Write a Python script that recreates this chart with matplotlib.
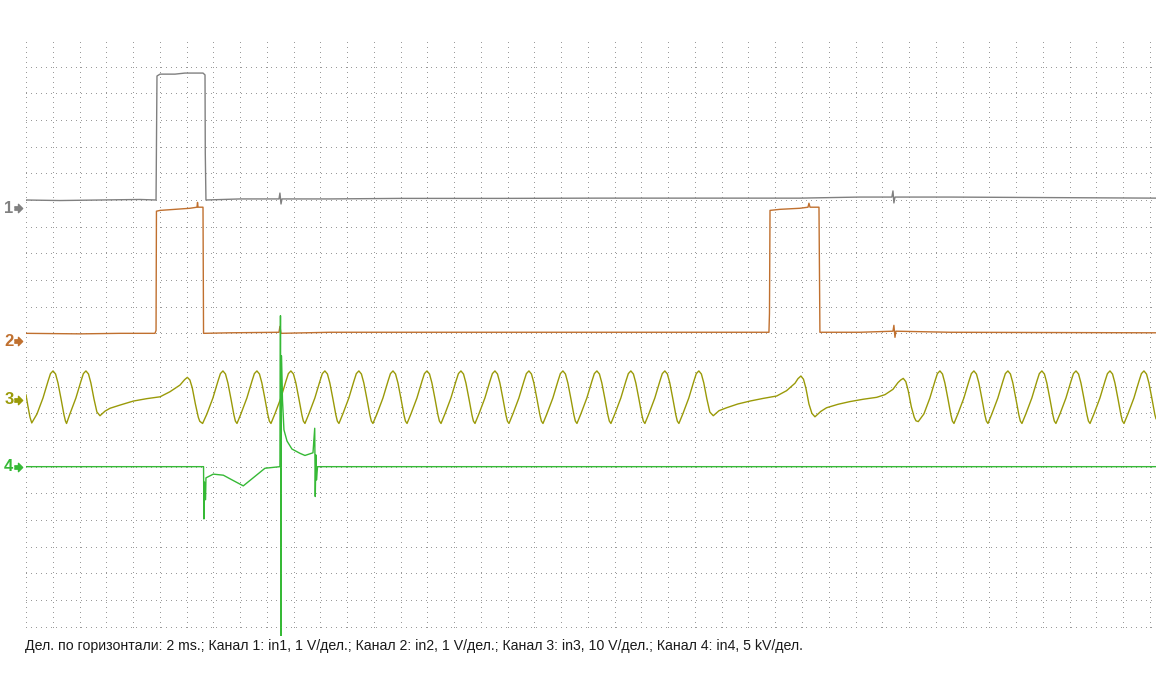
import numpy as np
import matplotlib
matplotlib.use("Agg")
import matplotlib.pyplot as plt

# time in ms (2 ms / div), amplitudes in channel units
ch1_ms = [0, 2.54, 5.53, 8.52, 9.72, 9.79, 10.02, 11.14, 11.88, 12.63,
          13.23, 13.38, 13.40, 13.45, 15.99, 18.91, 18.98, 19.06, 19.13, 22.72,
          27.95, 35.43, 42.90, 50.37, 57.85, 62.33, 64.72, 64.80, 64.87, 64.95,
          69.06, 76.53, 84.46]
ch1_v = [0.30, 0.28, 0.30, 0.32, 0.30, 4.95, 5.02, 5.02, 5.06, 5.06,
         5.06, 4.99, 2.06, 0.30, 0.34, 0.34, 0.56, 0.15, 0.34, 0.34,
         0.36, 0.36, 0.37, 0.37, 0.37, 0.41, 0.41, 0.64, 0.19, 0.41,
         0.41, 0.39, 0.37]

ch2_ms = [0, 4.04, 7.03, 9.64, 9.72, 9.75, 10.02, 11.14, 12.26, 12.78,
          12.82, 12.86, 13.23, 13.27, 15.25, 18.91, 18.98, 19.06, 22.72, 31.69,
          42.90, 50.37, 55.53, 55.57, 55.61, 56.35, 57.85, 58.45, 58.52, 58.60,
          59.27, 59.34, 62.33, 64.80, 64.87, 64.95, 65.02, 69.06, 84.46]
ch2_v = [0.30, 0.28, 0.30, 0.30, 0.41, 4.88, 4.91, 4.95, 4.99, 5.03,
         5.21, 5.03, 5.03, 0.30, 0.32, 0.34, 0.56, 0.30, 0.34, 0.34,
         0.34, 0.34, 0.34, 1.05, 4.91, 4.95, 4.99, 5.03, 5.18, 5.03,
         5.03, 0.34, 0.34, 0.38, 0.60, 0.15, 0.38, 0.34, 0.32]

ch3_ms = [0.00, 0.15, 0.30, 0.43,
          0.82, 1.27, 1.65, 1.83, 2.02, 2.21, 2.39, 2.62, 2.84, 2.95, 3.03,
          3.28, 3.73, 4.11, 4.29, 4.48, 4.67, 4.85, 5.08, 5.30, 5.53,
          5.90, 6.28, 7.03, 8.02, 9.02, 10.02, 10.76, 11.51, 11.85, 12.06,
          12.25, 12.43, 12.66, 12.88, 12.99, 13.20,
          13.52, 13.97, 14.35, 14.53, 14.72, 14.91, 15.09, 15.32, 15.54, 15.65, 15.77,
          16.06, 16.51, 16.89, 17.07, 17.26, 17.45, 17.63, 17.86, 18.08, 18.19, 18.31,
          18.60, 19.05, 19.43, 19.61, 19.80, 19.99, 20.17, 20.40, 20.62, 20.73, 20.85,
          21.14, 21.59, 21.97, 22.15, 22.34, 22.53, 22.71, 22.94, 23.16, 23.27, 23.39,
          23.68, 24.13, 24.51, 24.69, 24.88, 25.07, 25.25, 25.48, 25.70, 25.81, 25.93,
          26.23, 26.68, 27.06, 27.24, 27.43, 27.62, 27.80, 28.03, 28.25, 28.36, 28.48,
          28.77, 29.22, 29.60, 29.78, 29.97, 30.16, 30.34, 30.57, 30.79, 30.90, 31.02,
          31.31, 31.76, 32.14, 32.32, 32.51, 32.70, 32.88, 33.11, 33.33, 33.44, 33.56,
          33.85, 34.30, 34.68, 34.86, 35.05, 35.24, 35.42, 35.65, 35.87, 35.98, 36.10,
          36.39, 36.84, 37.22, 37.40, 37.59, 37.78, 37.96, 38.19, 38.41, 38.52, 38.64,
          38.93, 39.38, 39.76, 39.94, 40.13, 40.32, 40.50, 40.73, 40.95, 41.06, 41.18,
          41.47, 41.92, 42.30, 42.48, 42.67, 42.86, 43.04, 43.27, 43.49, 43.60, 43.72,
          44.01, 44.46, 44.84, 45.02, 45.21, 45.40, 45.58, 45.81, 46.03, 46.14, 46.26,
          46.55, 47.00, 47.38, 47.56, 47.75, 47.94, 48.12, 48.35, 48.57, 48.68, 48.80,
          49.09, 49.54, 49.92, 50.10, 50.29, 50.48, 50.66, 50.89, 51.11, 51.37,
          51.80, 52.37, 53.20, 54.11, 55.10, 56.11, 56.85, 57.48, 57.70, 57.92,
          58.11, 58.29, 58.52, 58.74, 58.97,
          59.40, 59.84, 60.70, 61.58, 62.60, 63.58, 64.20, 64.80, 65.17, 65.38,
          65.57, 65.76, 65.94, 66.17, 66.39, 66.52, 66.69,
          67.11, 67.56, 67.94, 68.12, 68.31, 68.50, 68.68, 68.91, 69.13, 69.24, 69.36,
          69.65, 70.10, 70.48, 70.66, 70.85, 71.04, 71.22, 71.45, 71.67, 71.78, 71.90,
          72.19, 72.64, 73.02, 73.20, 73.39, 73.58, 73.76, 73.99, 74.21, 74.32, 74.44,
          74.73, 75.18, 75.56, 75.74, 75.93, 76.12, 76.30, 76.53, 76.75, 76.86, 76.98,
          77.28, 77.73, 78.11, 78.29, 78.48, 78.67, 78.85, 79.08, 79.30, 79.41, 79.53,
          79.82, 80.27, 80.65, 80.83, 81.02, 81.21, 81.39, 81.62, 81.84, 81.95, 82.07,
          82.36, 82.81, 83.19, 83.37, 83.56, 83.75, 83.93, 84.16, 84.38, 84.46]
ch3_v = [1.9, -2.5, -6.5, -8.6,
         -5.25, 0.75, 7.1, 9.9, 10.9, 9.75, 6.4, 0.4, -5.6, -7.9, -8.8,
         -5.25, 0.75, 7.1, 9.9, 10.9, 9.75, 6.4, 0.4, -4.5, -5.9,
         -4.2, -3.1, -1.9, -0.4, 0.5, 1.2, 3.1, 5.6, 7.6, 8.5,
         7.5, 4.5, -1.5, -6.5, -8.0, -8.8,
         -5.25, 0.75, 7.1, 9.9, 10.9, 9.75, 6.4, 0.4, -5.6, -7.9, -8.8,
         -5.25, 0.75, 7.1, 9.9, 10.9, 9.75, 6.4, 0.4, -5.6, -7.9, -8.8,
         -5.25, 0.75, 7.1, 9.9, 10.9, 9.75, 6.4, 0.4, -5.6, -7.9, -8.8,
         -5.25, 0.75, 7.1, 9.9, 10.9, 9.75, 6.4, 0.4, -5.6, -7.9, -8.8,
         -5.25, 0.75, 7.1, 9.9, 10.9, 9.75, 6.4, 0.4, -5.6, -7.9, -8.8,
         -5.25, 0.75, 7.1, 9.9, 10.9, 9.75, 6.4, 0.4, -5.6, -7.9, -8.8,
         -5.25, 0.75, 7.1, 9.9, 10.9, 9.75, 6.4, 0.4, -5.6, -7.9, -8.8,
         -5.25, 0.75, 7.1, 9.9, 10.9, 9.75, 6.4, 0.4, -5.6, -7.9, -8.8,
         -5.25, 0.75, 7.1, 9.9, 10.9, 9.75, 6.4, 0.4, -5.6, -7.9, -8.8,
         -5.25, 0.75, 7.1, 9.9, 10.9, 9.75, 6.4, 0.4, -5.6, -7.9, -8.8,
         -5.25, 0.75, 7.1, 9.9, 10.9, 9.75, 6.4, 0.4, -5.6, -7.9, -8.8,
         -5.25, 0.75, 7.1, 9.9, 10.9, 9.75, 6.4, 0.4, -5.6, -7.9, -8.8,
         -5.25, 0.75, 7.1, 9.9, 10.9, 9.75, 6.4, 0.4, -5.6, -7.9, -8.8,
         -5.25, 0.75, 7.1, 9.9, 10.9, 9.75, 6.4, 0.4, -5.6, -7.9, -8.8,
         -5.25, 0.75, 7.1, 9.9, 10.9, 9.75, 6.4, 0.4, -4.5, -5.9,
         -4.0, -2.9, -1.5, -0.4, 0.6, 1.5, 3.5, 6.3, 8.0, 9.0,
         7.8, 4.5, -1.5, -5.0, -6.3,
         -4.3, -2.9, -1.6, -0.6, 0.3, 1.0, 2.0, 4.0, 6.5, 7.5,
         8.1, 6.9, 3.5, -2.5, -6.5, -7.8, -8.1,
         -5.25, 0.75, 7.1, 9.9, 10.9, 9.75, 6.4, 0.4, -5.6, -7.9, -8.8,
         -5.25, 0.75, 7.1, 9.9, 10.9, 9.75, 6.4, 0.4, -5.6, -7.9, -8.8,
         -5.25, 0.75, 7.1, 9.9, 10.9, 9.75, 6.4, 0.4, -5.6, -7.9, -8.8,
         -5.25, 0.75, 7.1, 9.9, 10.9, 9.75, 6.4, 0.4, -5.6, -7.9, -8.8,
         -5.25, 0.75, 7.1, 9.9, 10.9, 9.75, 6.4, 0.4, -5.6, -7.9, -8.8,
         -5.25, 0.75, 7.1, 9.9, 10.9, 9.75, 6.4, 0.4, -5.6, -7.9, -8.8,
         -5.25, 0.75, 7.1, 9.9, 10.9, 9.75, 6.4, 0.4, -5.6, -7.0]

ch4_ms = [0, 13.27, 13.30, 13.34, 13.42, 13.45, 14.00, 14.75, 15.49, 16.24,
          17.86, 18.98, 19.02, 19.06, 19.09, 19.17, 19.28, 19.51, 19.88, 20.48,
          20.85, 21.45, 21.58, 21.62, 21.67, 21.71, 21.79, 84.46]
ch4_kv = [0, 0, -9.8, -2.9, -6.2, -2.1, -1.4, -1.6, -2.6, -3.6,
          -0.3, 0, 28.3, -35.0, 20.8, 12.5, 6.9, 4.8, 3.3, 2.5,
          2.1, 2.6, 7.2, -5.6, 2.2, -2.5, 0, 0]

channels = ["1", "2", "3", "4"]
zero_div = [15.7, 10.7, 8.5, 6.0]      # marker positions (divisions from bottom)
per_div = [1, 1, 10, 5]
colors = ["#808080", "#c0702f", "#9a9a08", "#36b936"]

caption = ("Дел. по горизонтали: 2 ms.; Канал 1: in1, 1 V/дел.; Канал 2: in2, 1 V/дел.; "
           "Канал 3: in3, 10 V/дел.; Канал 4: in4, 5 kV/дел.")

W, H = 1156, 700
fig = plt.figure(figsize=(W / 100, H / 100), dpi=100)
ax = fig.add_axes([26 / W, 64 / H, 1130 / W, 596 / H])
ax.set_xlim(0, 84.46)
ax.set_ylim(-0.35, 22)
ax.axis("off")

# dotted graticule
dots = (0, (1, 4.33))
for t in np.arange(0, 85, 2):
    ax.plot([t, t], [0, 22], ls=dots, lw=0.72, color="#9a9a9a", antialiased=False, zorder=1)
for y in range(0, 22):
    ax.plot([0, 84.46], [y, y], ls=dots, lw=0.72, color="#9a9a9a", antialiased=False, zorder=1)

traces = [(ch1_ms, ch1_v), (ch2_ms, ch2_v), (ch3_ms, ch3_v), (ch4_ms, ch4_kv)]
for (t, v), z, s, c in zip(traces, zero_div, per_div, colors):
    ax.plot(t, z + np.array(v) / s, color=c, lw=1.0, zorder=3)

arrow = [(-1, -0.4), (0, -0.4), (0, -1), (1, 0), (0, 1), (0, 0.4), (-1, 0.4)]
ytr = ax.get_yaxis_transform()
for name, z, c in zip(channels, zero_div, colors):
    ax.text(-0.0152, z, name, transform=ytr, ha="center", va="center",
            fontsize=12, fontweight="bold", color=c, family="Liberation Sans")
    ax.plot([-0.0068], [z], transform=ytr, marker=arrow, markersize=6,
            color=c, clip_on=False, ls="none")

fig.text(25 / W, (H - 646) / H, caption, fontsize=10.2, family="Liberation Sans",
         va="center", ha="left", color="#1a1a1a")

fig.savefig("out.png", dpi=100)
